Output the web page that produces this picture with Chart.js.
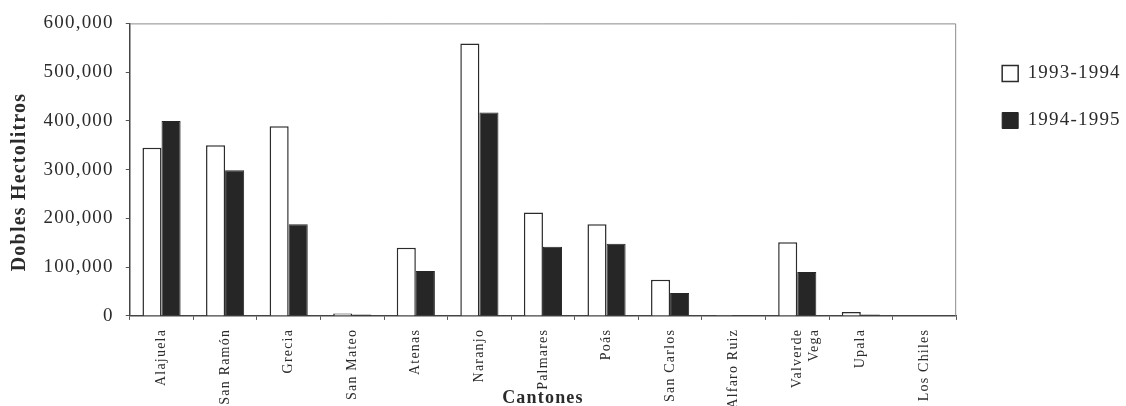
<!DOCTYPE html>
<html lang="es">
  <head>
    <meta charset="UTF-8" />
    <title>Cantones</title>
    <script src="https://cdn.jsdelivr.net/npm/chart.js@4/dist/chart.umd.min.js"></script>
    <style>
      body { margin: 0; background: #fff; }
      #wrap { width: 1126px; height: 406px; }
    </style>
  </head>
  <body>
    <div id="wrap"><canvas id="cantonChart"></canvas></div>
    <script>
      const cantones = ["Alajuela", "San Ramón", "Grecia", "San Mateo", "Atenas", "Naranjo",
        "Palmares", "Poás", "San Carlos", "Alfaro Ruiz", ["Valverde", "Vega"], "Upala", "Los Chiles"];
      const serieNames = ["1993-1994", "1994-1995"];
      const valores9394 = [345000, 350000, 389000, 5000, 140000, 559000, 212000, 188000, 74000, 2000, 151000, 8000, 0];
      const valores9495 = [400000, 299000, 188000, 3000, 92000, 417000, 142000, 148000, 47000, 1500, 90000, 3000, 0];
      const yTicks = [0, 100000, 200000, 300000, 400000, 500000, 600000];

      const ink = "#2b2b2b";
      const serif = "'Liberation Serif', 'Times New Roman', serif";

      // letter spacing for the scanned look, only while drawing
      const spacing = {
        id: "spacing",
        beforeDraw(chart) { chart.ctx.letterSpacing = "1.2px"; },
        afterDraw(chart) { chart.ctx.letterSpacing = "0px"; }
      };
      // push the legend a bit further from the plot
      const legendShift = {
        id: "legendShift",
        afterLayout(chart) {
          chart.legend.left += 18;
          chart.legend.right += 18;
        }
      };
      // thin top/right border of the plot box
      const frame = {
        id: "frame",
        beforeDatasetsDraw(chart) {
          const { ctx, chartArea: a } = chart;
          ctx.save();
          ctx.strokeStyle = "#8a8a8a";
          ctx.lineWidth = 1;
          ctx.beginPath();
          ctx.moveTo(a.left, a.top + 0.5);
          ctx.lineTo(a.right - 0.5, a.top + 0.5);
          ctx.lineTo(a.right - 0.5, a.bottom);
          ctx.stroke();
          ctx.restore();
        }
      };

      new Chart(document.getElementById("cantonChart"), {
        type: "bar",
        data: {
          labels: cantones,
          datasets: [
            {
              label: serieNames[0],
              data: valores9394,
              backgroundColor: "#ffffff",
              borderColor: ink,
              borderWidth: 1.5,
              borderSkipped: "bottom"
            },
            {
              label: serieNames[1],
              data: valores9495,
              backgroundColor: "#262626",
              borderColor: "#262626",
              borderWidth: 1,
              borderSkipped: "bottom"
            }
          ]
        },
        options: {
          responsive: true,
          maintainAspectRatio: false,
          animation: false,
          layout: { padding: { top: 14, left: 6, right: 24, bottom: 0 } },
          datasets: { bar: { categoryPercentage: 0.6, barPercentage: 1.0 } },
          plugins: {
            tooltip: { enabled: false },
            legend: {
              position: "right",
              align: "start",
              title: { display: true, text: " ", font: { size: 10 }, padding: { top: 5, bottom: 5 } },
              labels: {
                font: { family: serif, size: 19 },
                color: ink,
                boxWidth: 16,
                boxHeight: 16,
                padding: 28
              }
            }
          },
          scales: {
            x: {
              grid: { display: true, drawOnChartArea: false, tickLength: 4, color: "#555" },
              border: { color: "#444", width: 1.5 },
              ticks: {
                font: { family: serif, size: 14 },
                color: ink,
                minRotation: 90,
                maxRotation: 90,
                autoSkip: false,
                padding: 9
              },
              title: {
                display: true,
                text: "Cantones",
                font: { family: serif, size: 18, weight: "bold" },
                color: ink,
                padding: { top: -17, bottom: -3 }
              }
            },
            y: {
              min: yTicks[0],
              max: yTicks[yTicks.length - 1],
              afterBuildTicks(scale) { scale.ticks = yTicks.map(v => ({ value: v })); },
              grid: { display: true, drawOnChartArea: false, tickLength: 4, color: "#555" },
              border: { color: "#444", width: 1.5 },
              ticks: {
                font: { family: serif, size: 19 },
                color: ink,
                padding: 12,
                callback: v => v.toLocaleString("en-US")
              },
              title: {
                display: true,
                text: "Dobles Hectolitros    ",
                font: { family: serif, size: 20, weight: "bold" },
                color: ink,
                padding: { top: 2, bottom: 8 }
              }
            }
          }
        },
        plugins: [spacing, legendShift, frame]
      });
    </script>
  </body>
</html>
